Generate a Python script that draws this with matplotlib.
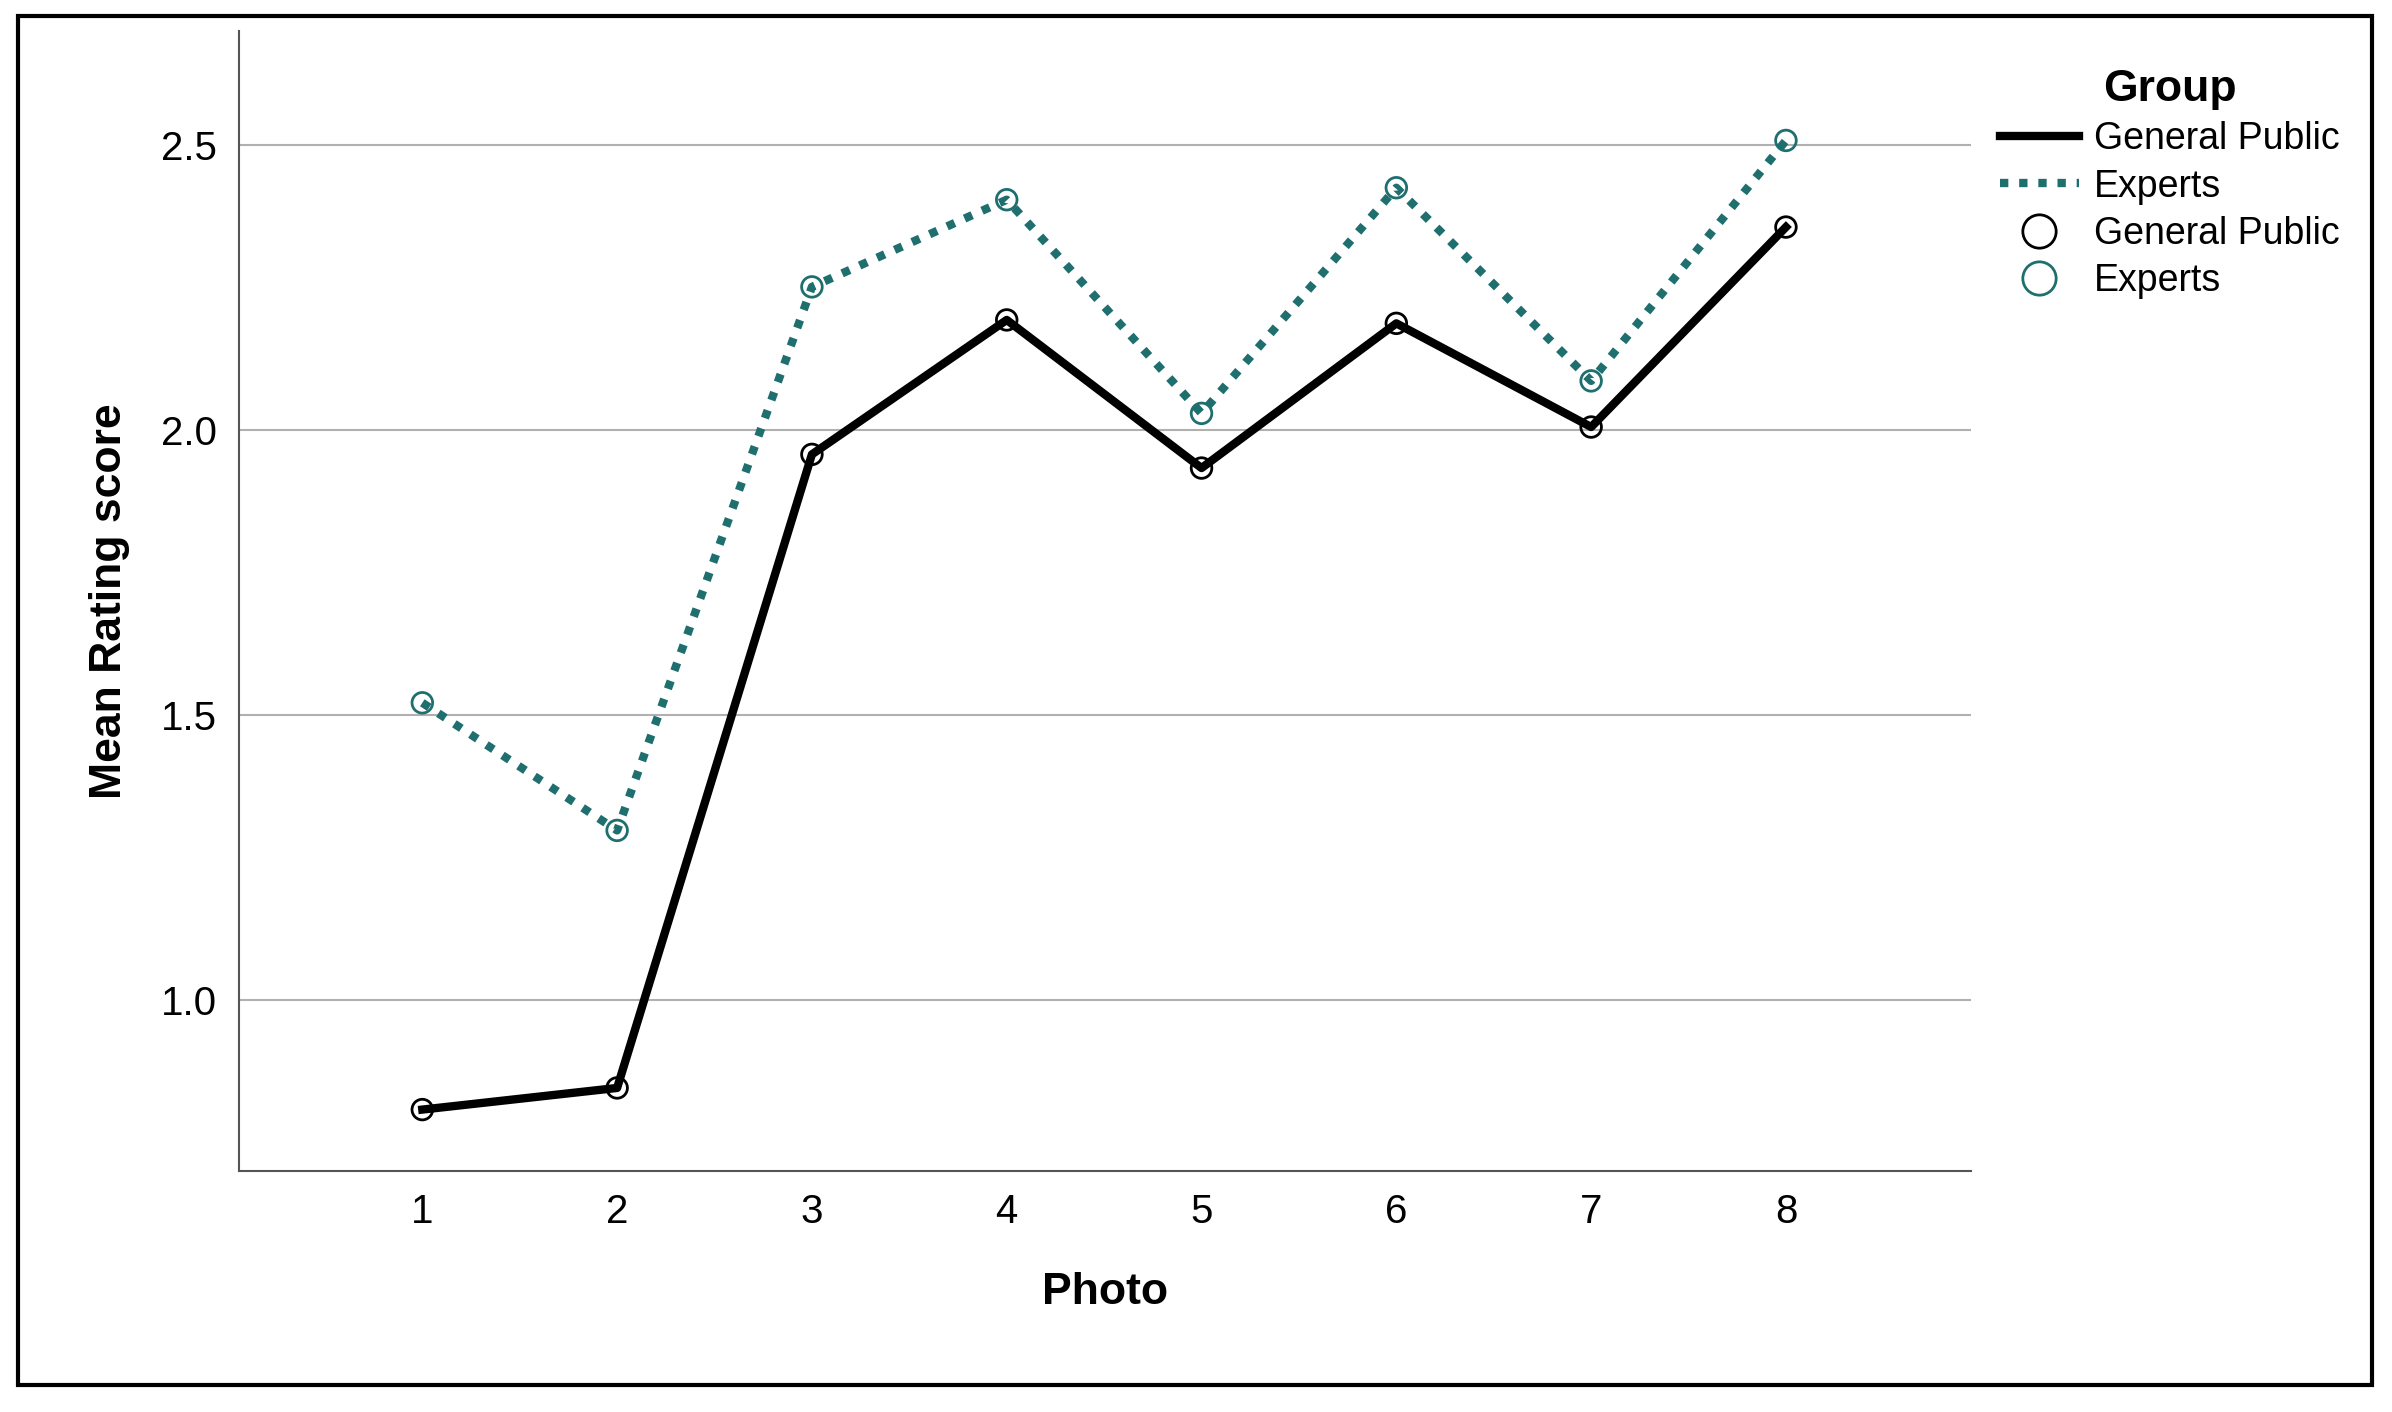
import matplotlib.pyplot as plt
from matplotlib.lines import Line2D
from matplotlib.patches import Rectangle

plt.rcParams['font.family'] = ['Liberation Sans', 'DejaVu Sans']

photos = [1, 2, 3, 4, 5, 6, 7, 8]
general_public = [0.807, 0.845, 1.957, 2.193, 1.933, 2.187, 2.005, 2.356]
experts = [1.521, 1.297, 2.251, 2.404, 2.029, 2.425, 2.086, 2.508]
yticks = [1.0, 1.5, 2.0, 2.5]

teal = '#1f6f6f'

fig = plt.figure(figsize=(23.92, 14.12), dpi=100)
ax = fig.add_axes([0.100, 0.171, 0.724, 0.807])

ax.plot(photos, general_public, color='black', linewidth=6, zorder=3)
ax.plot(photos, experts, color=teal, linewidth=6, linestyle=(0, (1, 1.3)), zorder=3)
ax.scatter(photos, general_public, s=220, facecolors='none', edgecolors='black', linewidths=2, zorder=4)
ax.scatter(photos, experts, s=220, facecolors='none', edgecolors=teal, linewidths=2, zorder=4)

ax.set_xlim(0.06, 8.95)
ax.set_ylim(0.70, 2.70)
ax.set_xticks(photos)
ax.set_yticks(yticks)
ax.set_yticklabels(['1.0', '1.5', '2.0', '2.5'])
ax.tick_params(labelsize=29, length=0, pad=16)
ax.grid(axis='y', color='#b0b0b0', linewidth=1.5)
ax.set_axisbelow(True)
for side in ['top', 'right']:
    ax.spines[side].set_visible(False)
for side in ['left', 'bottom']:
    ax.spines[side].set_color('#555555')
    ax.spines[side].set_linewidth(1.5)

ax.set_xlabel('Photo', fontsize=32, fontweight='bold', labelpad=30)
ax.set_ylabel('Mean Rating score', fontsize=32, fontweight='bold', labelpad=22)

handles = [
    Line2D([], [], color='black', linewidth=6),
    Line2D([], [], color=teal, linewidth=6, linestyle=(0, (1, 1.3))),
    Line2D([], [], marker='o', color='none', markerfacecolor='none', markeredgecolor='black', markersize=24, markeredgewidth=2),
    Line2D([], [], marker='o', color='none', markerfacecolor='none', markeredgecolor=teal, markersize=24, markeredgewidth=2),
]
labels = ['General Public', 'Experts', 'General Public', 'Experts']
leg = fig.legend(handles, labels, title='Group', loc='upper left', bbox_to_anchor=(0.822, 0.975),
                 frameon=False, fontsize=27, handlelength=2.1, labelspacing=0.3, handletextpad=0.4)
leg.get_title().set_fontsize(32)
leg.get_title().set_fontweight('bold')

fig.patches.append(Rectangle((0.0077, 0.019), 0.984, 0.970, transform=fig.transFigure,
                             fill=False, edgecolor='black', linewidth=3))

fig.savefig('out.png', dpi=100)
